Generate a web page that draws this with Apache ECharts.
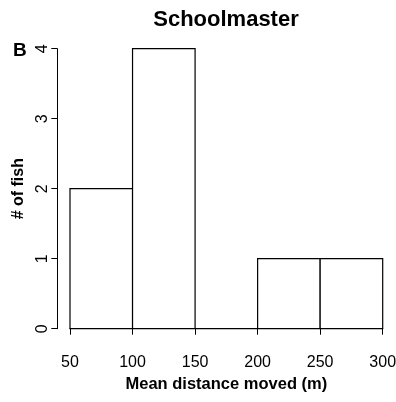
<!DOCTYPE html>
<html>
<head>
<meta charset="utf-8">
<script src="https://cdn.jsdelivr.net/npm/echarts@6/dist/echarts.min.js"></script>
<style>
  html, body { margin: 0; padding: 0; background: #fff; }
  #chart { width: 396px; height: 402px; }
</style>
</head>
<body>
<div id="chart"></div>
<script>
// Histogram bins (metres) and counts of fish per bin
const binStarts = [50, 100, 150, 200, 250];
const binEnds = [100, 150, 200, 250, 300];
const counts = [2, 4, 0, 1, 1];
const xTicks = [50, 100, 150, 200, 250, 300];
const yTicks = [0, 1, 2, 3, 4];

const FONT = '"Liberation Sans", Arial, sans-serif';
const chart = echarts.init(document.getElementById('chart'), null, { renderer: 'canvas' });

const data = binStarts.map((s, i) => [s, binEnds[i], counts[i]]);

chart.setOption({
  animation: false,
  backgroundColor: '#fff',
  title: [
    {
      text: 'Schoolmaster',
      left: 221, top: 4, textAlign: 'center',
      textStyle: { fontFamily: FONT, fontWeight: 'bold', fontSize: 22, color: '#000' }
    },
    {
      text: 'B',
      left: 8, top: 36,
      textStyle: { fontFamily: FONT, fontWeight: 'bold', fontSize: 19, color: '#000' }
    }
  ],
  grid: { left: 70, right: 13.3, top: 48.7, bottom: 73.3, outerBoundsMode: 'none', containLabel: false },
  xAxis: {
    type: 'value',
    min: xTicks[0], max: xTicks[xTicks.length - 1], interval: 50,
    offset: 11,
    name: 'Mean distance moved (m)',
    nameLocation: 'middle', nameGap: 36,
    nameTextStyle: { fontFamily: FONT, fontWeight: 'bold', fontSize: 16.5, color: '#000' },
    axisLine: { show: true, lineStyle: { color: '#000', width: 1 } },
    axisTick: { show: true, length: 6, lineStyle: { color: '#000' } },
    axisLabel: { fontFamily: FONT, fontSize: 16, color: '#000', margin: 15, showMinLabel: true, showMaxLabel: true },
    splitLine: { show: false }
  },
  yAxis: {
    type: 'value',
    min: yTicks[0], max: yTicks[yTicks.length - 1], interval: 1,
    offset: 12.7,
    name: '# of fish',
    nameLocation: 'middle', nameGap: 27,
    nameTextStyle: { fontFamily: FONT, fontWeight: 'bold', fontSize: 16, color: '#000' },
    axisLine: { show: true, lineStyle: { color: '#000', width: 1 } },
    axisTick: { show: true, length: 6, lineStyle: { color: '#000' } },
    axisLabel: { fontFamily: FONT, fontSize: 16, color: '#000', rotate: 90, margin: 7 },
    splitLine: { show: false }
  },
  series: [{
    type: 'custom',
    data: data,
    encode: { x: [0, 1], y: 2 },
    renderItem: function (params, api) {
      const p0 = api.coord([api.value(0), 0]);
      const p1 = api.coord([api.value(1), api.value(2)]);
      return {
        type: 'rect',
        shape: { x: p0[0], y: p1[1], width: p1[0] - p0[0], height: p0[1] - p1[1] },
        style: { fill: '#fff', stroke: '#000', lineWidth: 1.2 }
      };
    }
  }]
});
</script>
</body>
</html>
